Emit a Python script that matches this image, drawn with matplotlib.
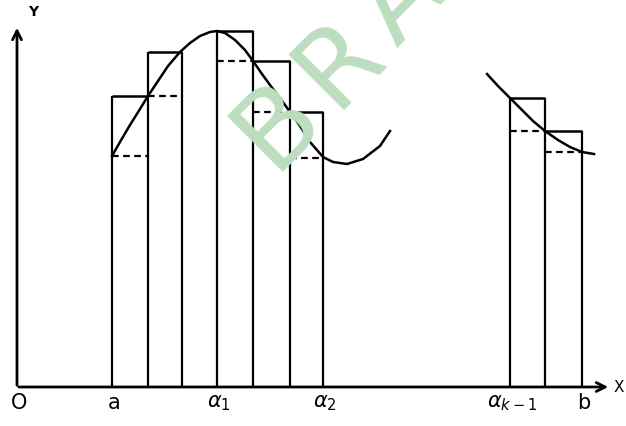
##  Riemann sum sketch: curve with upper / lower rectangles

import matplotlib.pyplot as plt
import numpy as np

# curve through the first group of strips (x, y in sketch units, origin at O)
curve1_x = [95, 103, 113, 123, 131, 141, 151, 163, 173, 183, 193, 200, 208, 218,
            228, 236, 245, 253, 263, 273, 283, 293, 306, 316, 330, 346, 363, 373]
curve1_y = [231, 245, 262, 278, 291, 306, 321, 335, 344, 351, 355, 356, 354, 347,
            337, 326, 313, 302, 289, 275, 261, 245, 230, 225, 223, 228, 241, 256]

# curve through the last strips
curve2_x = [470, 481, 493, 505, 516, 528, 541, 553, 565, 577]
curve2_y = [313, 301, 289, 277, 266, 256, 247, 240, 235, 233]

# partition points and rectangle heights (nan = not drawn)
edges_left = [95, 131, 165, 200, 236, 273, 306]
upper_left = [291, 335, np.nan, 356, 326, 275]
lower_left = [231, 291, np.nan, 326, 275, 229]

edges_right = [493, 528, 565]
upper_right = [289, 256]
lower_right = [256, 235]

tick_pos = [0, 95, 200, 306, 493, 565]
tick_labels = ['O', 'a', r'$\alpha_{1}$', r'$\alpha_{2}$', r'$\alpha_{k-1}$', 'b']

watermark = 'BRA'


def draw_strips(ax, edges, upper, lower):
    tops = np.array(upper, dtype=float)
    for i, e in enumerate(edges):
        neigh = []
        if i > 0:
            neigh.append(tops[i - 1])
        if i < len(tops):
            neigh.append(tops[i])
        h = np.nanmax(neigh)
        ax.vlines(e, 0, h, color='k', lw=1.6)
    for i in range(len(upper)):
        if not np.isnan(upper[i]):
            ax.hlines(upper[i], edges[i], edges[i + 1], color='k', lw=1.8)
        if not np.isnan(lower[i]):
            ax.hlines(lower[i], edges[i], edges[i + 1], color='k', lw=1.6,
                      linestyles=(0, (3, 2)))


def plot():
    fig = plt.figure(figsize=(6.26, 4.27), dpi=100)
    ax = fig.add_axes([0, 0, 1, 1])
    ax.set_xlim(-17, 609)
    ax.set_ylim(-39, 388)
    ax.axis('off')

    # axes with arrows
    ax.annotate('', xy=(0, 362), xytext=(0, -1),
                arrowprops=dict(arrowstyle='->', lw=2, color='k', mutation_scale=16))
    ax.annotate('', xy=(594, 0), xytext=(-1, 0),
                arrowprops=dict(arrowstyle='->', lw=2, color='k', mutation_scale=16))
    ax.text(16, 376, 'Y', fontsize=10, fontweight='bold', ha='center', va='center')
    ax.text(597, 0, 'X', fontsize=11, ha='left', va='center')

    draw_strips(ax, edges_left, upper_left, lower_left)
    draw_strips(ax, edges_right, upper_right, lower_right)

    ax.plot(curve1_x, curve1_y, color='k', lw=1.8)
    ax.plot(curve2_x, curve2_y, color='k', lw=1.8)

    for p, lab in zip(tick_pos, tick_labels):
        ax.text(p + 2, -15, lab, fontsize=15, ha='center', va='center')

    # watermark, letters spaced out along a 45 degree baseline
    step = 62
    for i, ch in enumerate(watermark):
        ax.text(255 + i * step, 216 + i * step, ch, rotation=45, rotation_mode='anchor',
                color='#bcdebf', fontsize=78, family='DejaVu Sans', zorder=5)

    plt.savefig('out.png', dpi=100)


if __name__ == '__main__':
    plot()
